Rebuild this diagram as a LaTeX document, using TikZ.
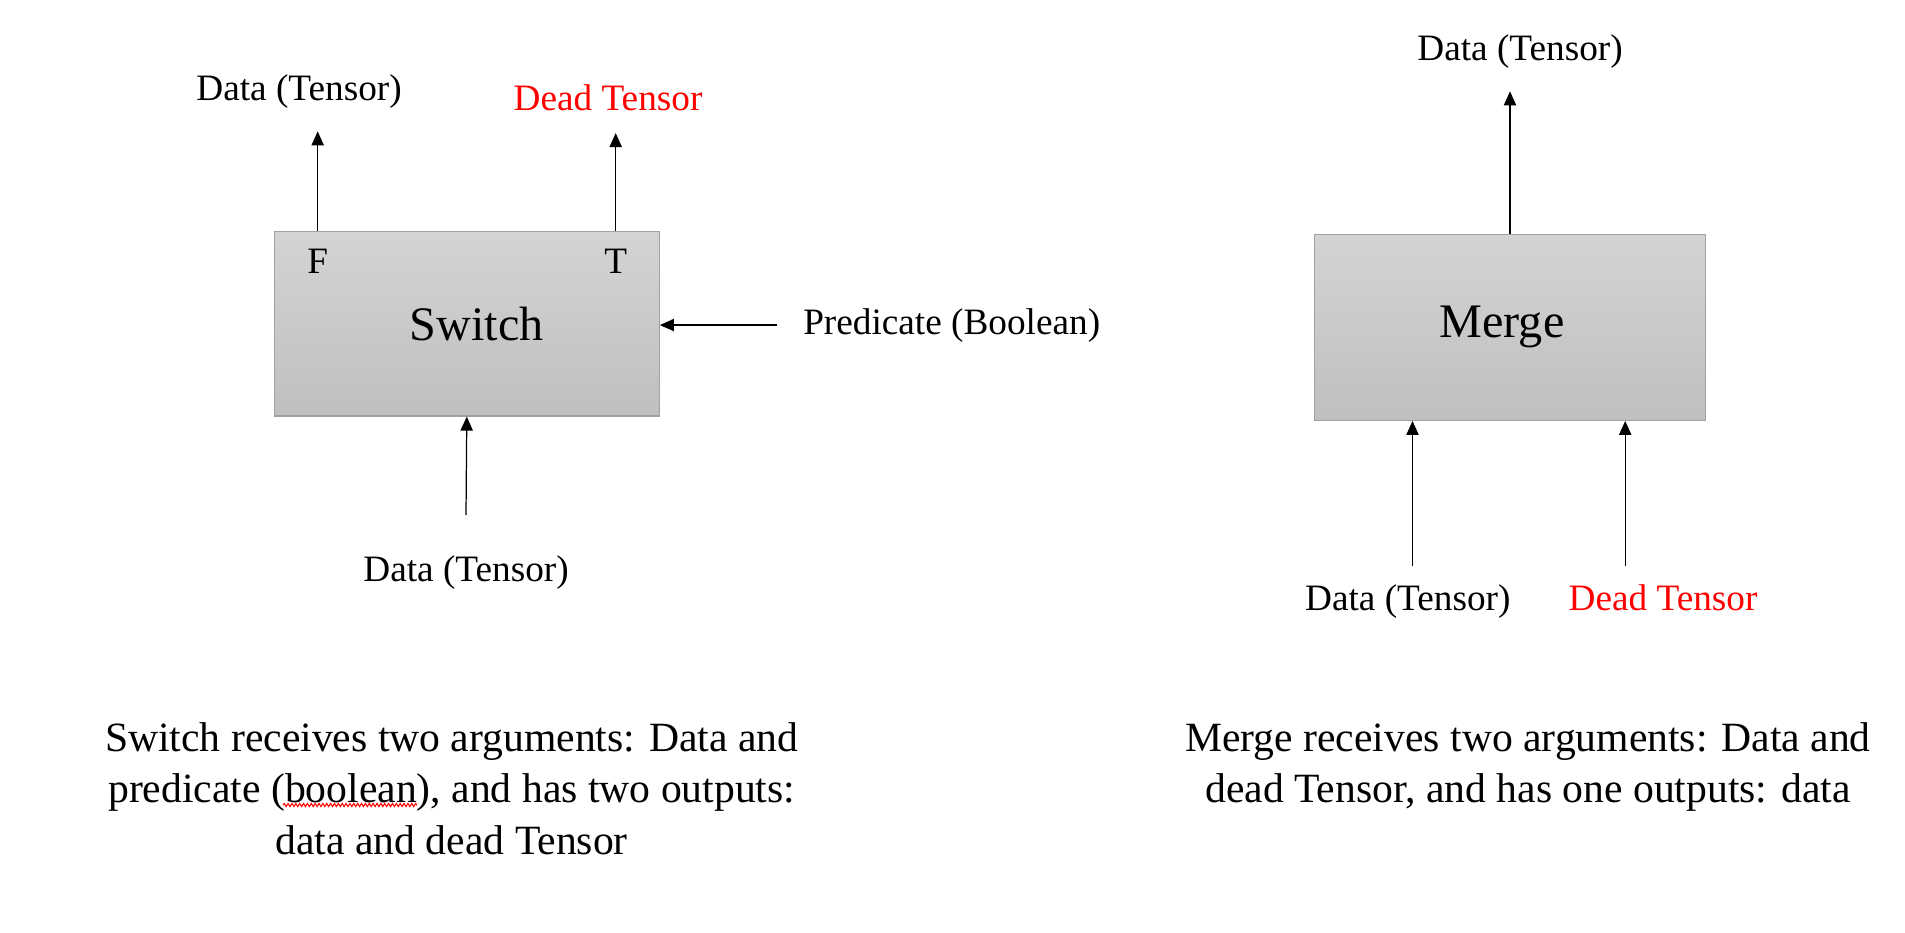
\documentclass[tikz,border=0pt]{standalone}
\usepackage{fontspec}
\setmainfont{Liberation Serif}
\usetikzlibrary{arrows.meta,positioning,decorations.pathmorphing}

\begin{document}
\begin{tikzpicture}[
    op/.style={draw=black!37,line width=0.35pt,top color=black!17,bottom color=black!25,inner sep=0pt,font=\fontsize{13.7}{16}\selectfont},
    lbl/.style={inner xsep=0.257cm,inner ysep=0.22cm,font=\fontsize{10.6}{13}\selectfont},
    port/.style={inner sep=0pt,font=\fontsize{10.6}{13}\selectfont},
    note/.style={align=center,inner sep=0pt,font=\fontsize{11.85}{14.7}\selectfont},
    flow/.style={line width=0.35pt,-{Triangle[length=4pt,width=3.5pt]}},
    spell/.style={red,line width=0.3pt,decorate,decoration={snake,amplitude=0.45pt,segment length=1.1pt}}
]
    \useasboundingbox (0,0) rectangle (19.05,-9.32);
    % switch
    \node[op,minimum width=3.85cm,minimum height=1.843cm] (sw) at (4.668,-3.238) {\hspace{0.2cm}Switch};
    \node[port,anchor=base] (F) at (3.177,-2.733) {F};
    \node[port,anchor=base] (T) at (6.157,-2.733) {T};
    \node[lbl,anchor=base] (outF) at (2.99,-1.007) {Data (Tensor)};
    \node[lbl,anchor=base,text=red] (outT) at (6.08,-1.10) {Dead Tensor};
    \node[lbl,anchor=base] (pred) at (9.517,-3.34) {Predicate (Boolean)};
    \node[lbl,anchor=base,inner ysep=0.4cm] (inD) at (4.66,-5.817) {Data (Tensor)};
    \draw[flow] (F |- sw.north) -- (F |- outF.south);
    \draw[flow] (T |- sw.north) -- (T |- outT.south);
    \draw[flow] (pred.west) -- (sw.east |- pred.west);
    \draw[flow] (inD.north) -- (sw.south);
    % merge
    \node[op,minimum width=3.913cm,minimum height=1.86cm] (mg) at (15.10,-3.273) {\hspace{-0.16cm}Merge};
    \node[lbl,anchor=base] (out) at (15.20,-0.607) {Data (Tensor)};
    \node[lbl,anchor=base,inner ysep=0.17cm] (inA) at (14.078,-6.10) {Data (Tensor)};
    \node[lbl,anchor=base,inner ysep=0.17cm,text=red] (inB) at (16.63,-6.10) {Dead Tensor};
    \draw[flow] (mg.north) -- (mg.north |- out.south);
    \draw[flow] ([xshift=0.047cm]inA.north) -- ([xshift=0.047cm]inA.north |- mg.south);
    \draw[flow] ([xshift=-0.378cm]inB.north) -- ([xshift=-0.378cm]inB.north |- mg.south);
    % captions
    \node[note,anchor=north] (noteS) at (4.517,-7.216) {Switch receives two arguments: Data and\\predicate (boolean), and has two outputs:\\data and dead Tensor};
    \node[note,anchor=north] (noteM) at (15.28,-7.216) {Merge receives two arguments: Data and\\dead Tensor, and has one outputs: data};
    \draw[spell] (2.83,-8.05) -- (4.17,-8.05);
\end{tikzpicture}
\end{document}
